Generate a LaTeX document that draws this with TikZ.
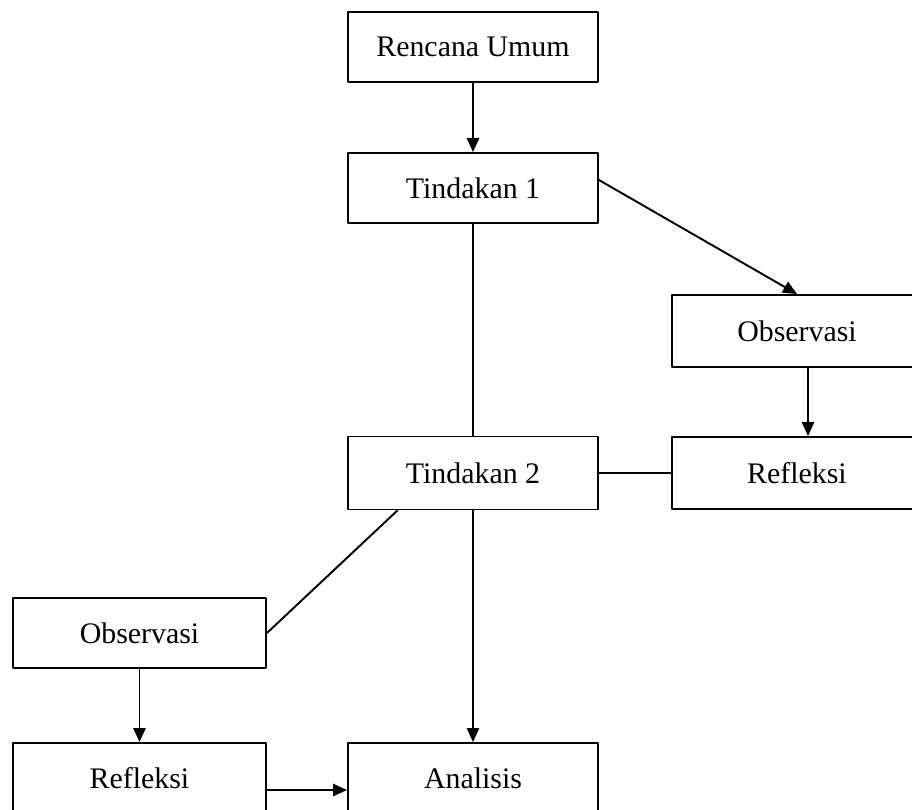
\documentclass[tikz,border=0pt]{standalone}
\usepackage{fontspec}
\setmainfont{Liberation Serif}
\usetikzlibrary{arrows.meta,calc}
\begin{document}
\begin{tikzpicture}[x=0.02cm,y=-0.02cm,font=\fontsize{17}{20}\selectfont,line join=round,line cap=round,>={Triangle[length=8pt,width=7pt]},line width=1.1pt]
	\tikzset{kotak/.style={draw,minimum width=5cm,minimum height=1.4cm,inner sep=0pt}}
	\useasboundingbox (0,0) rectangle (912,809);
	\node[kotak] (ren) at (473,47) {Rencana Umum};
	\node[kotak] (t1) at (473,188) {Tindakan 1};
	\node[kotak,minimum height=1.44cm] (obs1) at (797,331) {Observasi};
	\node[kotak,minimum height=1.44cm] (ref1) at (797,473) {Refleksi};
	\node[kotak,minimum height=1.46cm] (t2) at (473,473) {Tindakan 2};
	\node[kotak,minimum width=5.06cm] (obs2) at (139.5,633) {Observasi};
	\node[kotak,minimum width=5.06cm] (ref2) at (139.5,778) {Refleksi};
	\node[kotak] (ana) at (473,778) {Analisis};
	
	\draw[->] ([yshift=0.16cm]t1.east) -- (obs1.north);
	\draw[->] (ren) -- (t1);
	\draw[->] ([xshift=0.22cm]obs1.south) -- ([xshift=0.22cm]obs1.south |- ref1.north);
	\draw (t1) -- (t2);
	\draw (t2) -- (ref1);
	\draw ($(t2.south west)!0.2!(t2.south east)$) -- (obs2.east);
	\draw[->] (t2) -- (ana);
	\draw[->] (obs2) -- (ref2);
	\draw[->] ([yshift=-0.24cm]ref2.east) -- ([yshift=-0.24cm]ref2.east -| ana.west);
\end{tikzpicture}
\end{document}
